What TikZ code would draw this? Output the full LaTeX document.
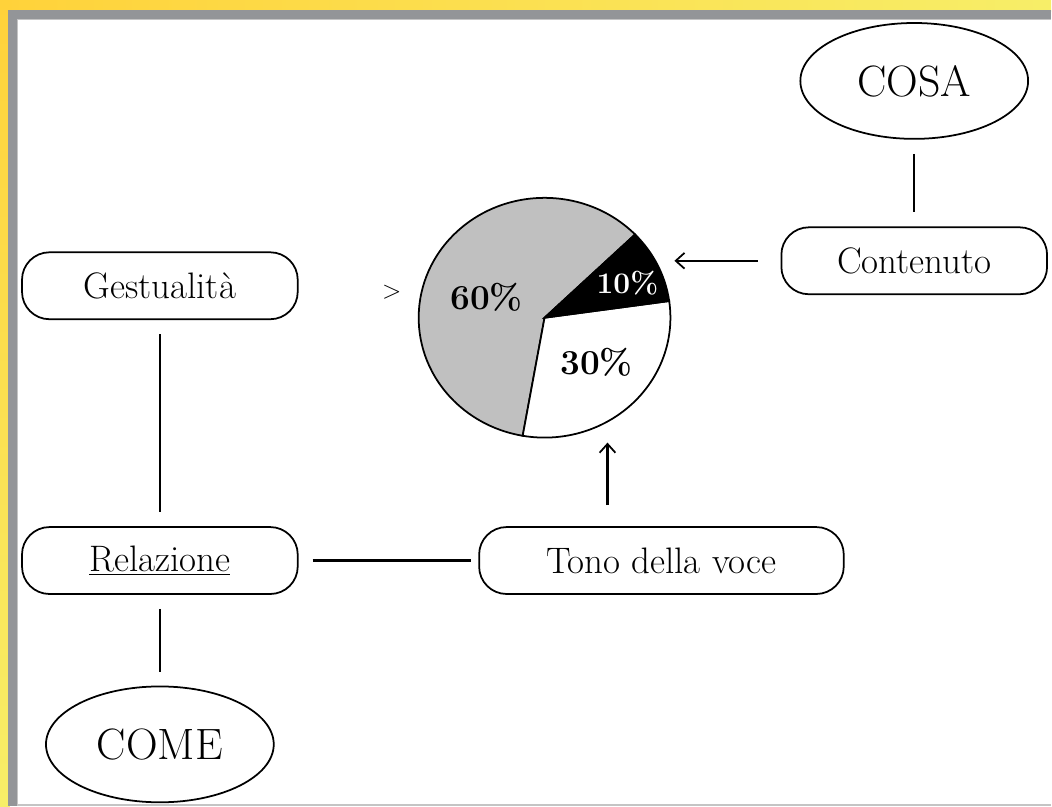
\documentclass[tikz,border=0pt]{standalone}
\usepackage{tikz}
\usetikzlibrary{arrows.meta}
\usetikzlibrary{positioning,shapes.geometric}
\definecolor{frameorange}{HTML}{FFD23A}
\definecolor{frameyellow}{HTML}{F7EE68}
\definecolor{framegray}{HTML}{939598}
\definecolor{edgegray}{HTML}{C4C4C4}
\definecolor{piegray}{HTML}{C0C0C0}
\tikzset{
    box/.style={
        draw,
        rounded corners=0.55cm,
        minimum height=1.34cm,
        inner sep=2pt,
        font=\fontsize{21}{25}\selectfont
    },
    oval/.style={
        draw,
        ellipse,
        minimum width=4.56cm,
        minimum height=2.32cm,
        inner sep=0pt,
        font=\fontsize{25}{30}\selectfont
    },
    pct/.style={
        inner sep=0pt,
        font=\bfseries\fontsize{20}{24}\selectfont
    },
    link/.style={
        line width=1.3pt,
        shorten <=8pt,
        shorten >=8pt
    },
    pointer/.style={
        line width=1.2pt,
        -{Straight Barb[length=5pt, width=9pt, line width=1pt]}
    }
}

\begin{document}
\begin{tikzpicture}[x=0.02cm, y=-0.02cm, line width=1pt]
    % background and frame
    \shade[left color=frameorange, right color=frameyellow] (0,0) rectangle (1052,12);
    \shade[top color=frameorange, bottom color=frameyellow] (0,0) rectangle (10,807);
    \fill[framegray] (8,10) rectangle (1052,807);
    \fill[white] (17,19) rectangle (1052,805);
    \draw[edgegray, line width=1pt] (17.5,806) -- (17.5,19.5) -- (1052,19.5);
    \draw[edgegray, line width=1pt] (17.5,806) -- (1052,806);
    \useasboundingbox (0,0) rectangle (1052,807);

    % pie chart
    \coordinate (pc) at (545,318);
    \filldraw[fill=piegray] (pc) -- ++(44:2.52cm and 2.4cm) arc[start angle=44, end angle=260, x radius=2.52cm, y radius=2.4cm] -- cycle;
    \filldraw[fill=white] (pc) -- ++(-100:2.52cm and 2.4cm) arc[start angle=-100, end angle=8, x radius=2.52cm, y radius=2.4cm] -- cycle;
    \filldraw[fill=black] (pc) -- ++(8:2.52cm and 2.4cm) arc[start angle=8, end angle=44, x radius=2.52cm, y radius=2.4cm] -- cycle;
    \node[pct] (p60) at (487,298) {60\%};
    \node[pct, text=white, font=\bfseries\fontsize{17}{20}\selectfont] (p10) at (628,283) {10\%};
    \node[pct] (p30) at (597,363) {30\%};
    \node[font=\fontsize{14}{16}\selectfont] (gt) at (392,292) {$>$};

    % nodes
    \node[oval] (cosa) at (915,81) {COSA};
    \node[box, minimum width=5.32cm] (contenuto) at (915,261) {Contenuto};
    \node[box, minimum width=5.52cm] (gest) at (160,286) {Gestualità};
    \node[box, minimum width=5.52cm] (rel) at (160,561) {\underline{Relazione}};
    \node[box, minimum width=7.3cm] (tono) at (662,561) {Tono della voce};
    \node[oval] (come) at (160,745) {COME};

    \coordinate (pieright) at (675,261);
    \coordinate (piebottom) at (608,443);

    % connectors
    \draw[link] (cosa) -- (contenuto);
    \draw[link] (gest) -- (rel);
    \draw[link] (rel) -- (come);
    \draw[link, shorten >=4pt] (rel) -- (tono);
    \draw[pointer, shorten <=13pt] (contenuto.west) -- (pieright);
    \draw[pointer, shorten <=12pt] (tono.north -| piebottom) -- (piebottom);
\end{tikzpicture}
\end{document}
